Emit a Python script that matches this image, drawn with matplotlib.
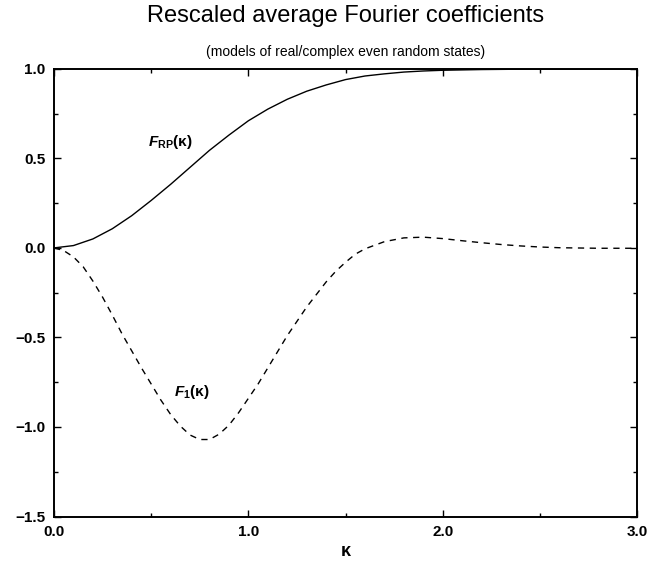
import matplotlib
matplotlib.use("Agg")
import matplotlib.pyplot as plt
from matplotlib.ticker import MultipleLocator, FuncFormatter

plt.rcParams.update({
    "font.family": ["Liberation Sans", "DejaVu Sans"],
    "mathtext.fontset": "custom",
    "mathtext.rm": "Liberation Sans:bold",
    "mathtext.it": "Liberation Sans:italic:bold",
    "mathtext.bf": "Liberation Sans:bold",
})

# F_RP(kappa)
kappa_rp = [0.0, 0.1, 0.2, 0.3, 0.4, 0.5, 0.6, 0.7, 0.8, 0.9, 1.0, 1.1, 1.2,
            1.3, 1.4, 1.5, 1.6, 1.7, 1.8, 1.9, 2.0, 2.2, 2.4, 2.7, 3.0]
f_rp = [0.0, 0.013, 0.05, 0.107, 0.18, 0.265, 0.355, 0.45, 0.545, 0.63,
        0.71, 0.775, 0.83, 0.875, 0.91, 0.94, 0.96, 0.972, 0.982, 0.988,
        0.992, 0.996, 0.998, 0.999, 1.0]

# F_1(kappa)
kappa_1 = [0.0, 0.05, 0.1, 0.15, 0.2, 0.25, 0.3, 0.35, 0.4, 0.45, 0.5, 0.55,
           0.6, 0.65, 0.7, 0.75, 0.8, 0.85, 0.9, 0.95, 1.0, 1.05, 1.1, 1.15,
           1.2, 1.25, 1.3, 1.35, 1.4, 1.45, 1.5, 1.55, 1.6, 1.7, 1.8, 1.9,
           2.0, 2.1, 2.2, 2.3, 2.4, 2.5, 2.6, 2.8, 3.0]
f_1 = [0.0, -0.015, -0.05, -0.105, -0.185, -0.275, -0.375, -0.48, -0.575,
       -0.67, -0.76, -0.85, -0.93, -0.995, -1.045, -1.07, -1.07, -1.04,
       -0.99, -0.92, -0.84, -0.76, -0.67, -0.58, -0.49, -0.41, -0.33, -0.26,
       -0.19, -0.13, -0.08, -0.035, -0.005, 0.035, 0.056, 0.06, 0.052, 0.04,
       0.029, 0.019, 0.011, 0.005, 0.001, -0.002, -0.002]


def fmt(v, pos):
    # one decimal, proper minus sign
    return f"{v:.1f}".replace("-", "\u2212")


fig = plt.figure(figsize=(6.48, 5.61), dpi=100)
ax = fig.add_axes([0.0833, 0.0793, 0.900, 0.798])

ax.plot(kappa_rp, f_rp, color="black", lw=1.0, solid_joinstyle="round")
ax.plot(kappa_1, f_1, color="black", lw=1.0, linestyle=(0, (4.5, 4)))

ax.text(0.6, 0.59, r"$F_{\mathrm{RP}}$(κ)", fontsize=11, fontweight="bold",
        ha="center", va="center")
ax.text(0.71, -0.805, r"$F_{\mathrm{1}}$(κ)", fontsize=11, fontweight="bold",
        ha="center", va="center")

ax.set_xlim(0, 3)
ax.set_ylim(-1.5, 1.0)
ax.xaxis.set_major_locator(MultipleLocator(1.0))
ax.xaxis.set_minor_locator(MultipleLocator(0.5))
ax.yaxis.set_major_locator(MultipleLocator(0.5))
ax.yaxis.set_minor_locator(MultipleLocator(0.25))
ax.xaxis.set_major_formatter(FuncFormatter(fmt))
ax.yaxis.set_major_formatter(FuncFormatter(fmt))
ax.tick_params(which="both", direction="in", top=True, right=True,
               labelsize=11, width=1.0)
ax.tick_params(which="major", length=5, pad=6)
ax.tick_params(which="minor", length=3)
for lab in ax.get_xticklabels() + ax.get_yticklabels():
    lab.set_fontweight("bold")
for s in ax.spines.values():
    s.set_linewidth(1.4)

ax.set_xlabel("κ", fontsize=13, fontweight="bold", labelpad=3)

fig.text(0.533, 0.972, "Rescaled average Fourier coefficients",
         fontsize=17, ha="center", va="center")
fig.text(0.533, 0.907, "(models of real/complex even random states)",
         fontsize=10, ha="center", va="center")

fig.savefig("out.png", dpi=100)
